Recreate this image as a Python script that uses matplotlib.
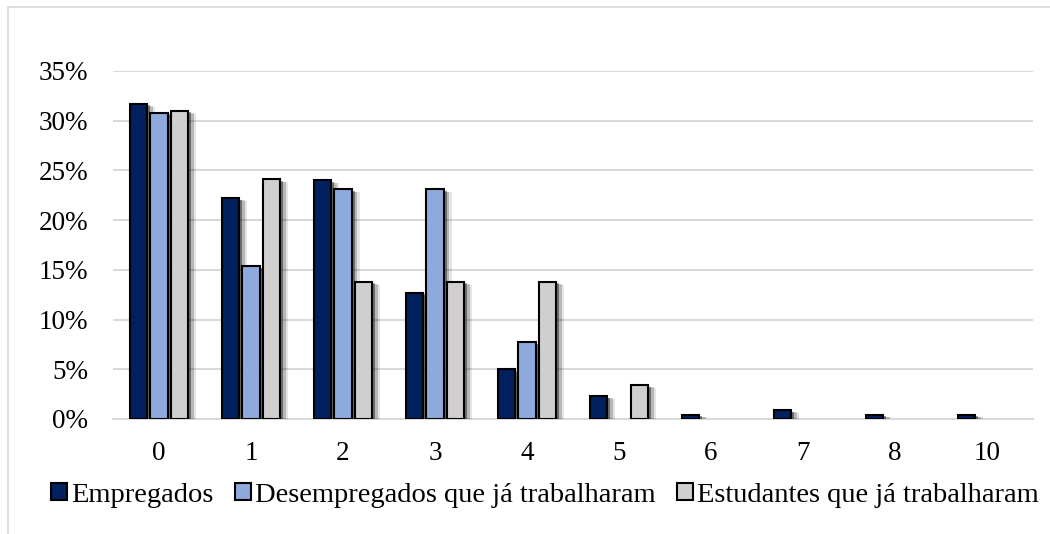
import matplotlib
matplotlib.use("Agg")
import matplotlib.pyplot as plt
import matplotlib.patheffects as pe
from matplotlib.patches import Rectangle
from matplotlib.ticker import PercentFormatter
import numpy as np

# distribution by number (0..10) for each group, in %
categories = ["0", "1", "2", "3", "4", "5", "6", "7", "8", "10"]
empregados = [31.7, 22.2, 24.0, 12.7, 5.0, 2.3, 0.45, 0.9, 0.45, 0.45]
desempregados = [30.8, 15.4, 23.1, 23.1, 7.7, 0, 0, 0, 0, 0]
estudantes = [31.0, 24.1, 13.8, 13.8, 13.8, 3.4, 0, 0, 0, 0]
series_names = ["Empregados", "Desempregados que já trabalharam",
                "Estudantes que já trabalharam"]
colors = ["#002060", "#8EA9DB", "#D0CECE"]

plt.rcParams["font.family"] = ["Liberation Serif", "DejaVu Serif"]

fig = plt.figure(figsize=(10.5, 5.34), dpi=100)
ax = fig.add_axes([113 / 1050, 1 - 419 / 534, 920 / 1050, 348 / 534])

# light frame around the chart
fig.patches.append(Rectangle((8 / 1050, -0.05), 1.1, 1 - 7 / 534 + 0.05,
                             transform=fig.transFigure, fill=False,
                             edgecolor="#D9D9D9", linewidth=1.2))

# soft drop shadow: a few offset layers fading out
shadow = [pe.SimplePatchShadow(offset=(6.0, -2.0), shadow_rgbFace="black", alpha=0.1),
          pe.SimplePatchShadow(offset=(4.3, -1.6), shadow_rgbFace="black", alpha=0.2),
          pe.SimplePatchShadow(offset=(2.5, -1.2), shadow_rgbFace="black", alpha=0.4),
          pe.Normal()]

x = np.arange(len(categories))
w = 0.185
offs = [-0.223, 0, 0.223]
for vals, off, c, name in zip([empregados, desempregados, estudantes], offs, colors, series_names):
    v = np.array(vals)
    bars = ax.bar(x + off, np.where(v > 0, v, np.nan), w, color=c, edgecolor="black",
                  linewidth=1.5, label=name, zorder=3)
    for b in bars:
        b.set_path_effects(shadow)

ax.set_xlim(-0.5, len(categories) - 0.5)
ax.set_ylim(0, 35)
ax.set_yticks(np.arange(0, 36, 5))
ax.yaxis.set_major_formatter(PercentFormatter(decimals=0))
ax.set_xticks(x)
ax.set_xticklabels(categories)
ax.grid(axis="y", color="#D9D9D9", linewidth=1.5, zorder=0)
ax.set_axisbelow(True)
for s in ["top", "right", "left"]:
    ax.spines[s].set_visible(False)
ax.spines["bottom"].set_color("#D9D9D9")
ax.spines["bottom"].set_linewidth(1.5)
ax.tick_params(axis="both", length=0, labelsize=19.5)
ax.tick_params(axis="y", pad=18)
ax.tick_params(axis="x", pad=16)

handles = [Rectangle((0, 0), 1, 1, facecolor=c, edgecolor="black", linewidth=1.5) for c in colors]
fig.legend(handles, series_names, loc="center", bbox_to_anchor=(545 / 1050, 1 - 495 / 534),
           ncol=3, frameon=False, fontsize=20.5, handlelength=0.55, handleheight=0.55,
           handletextpad=0.15, columnspacing=0.75)

fig.savefig("out.png", dpi=100)
